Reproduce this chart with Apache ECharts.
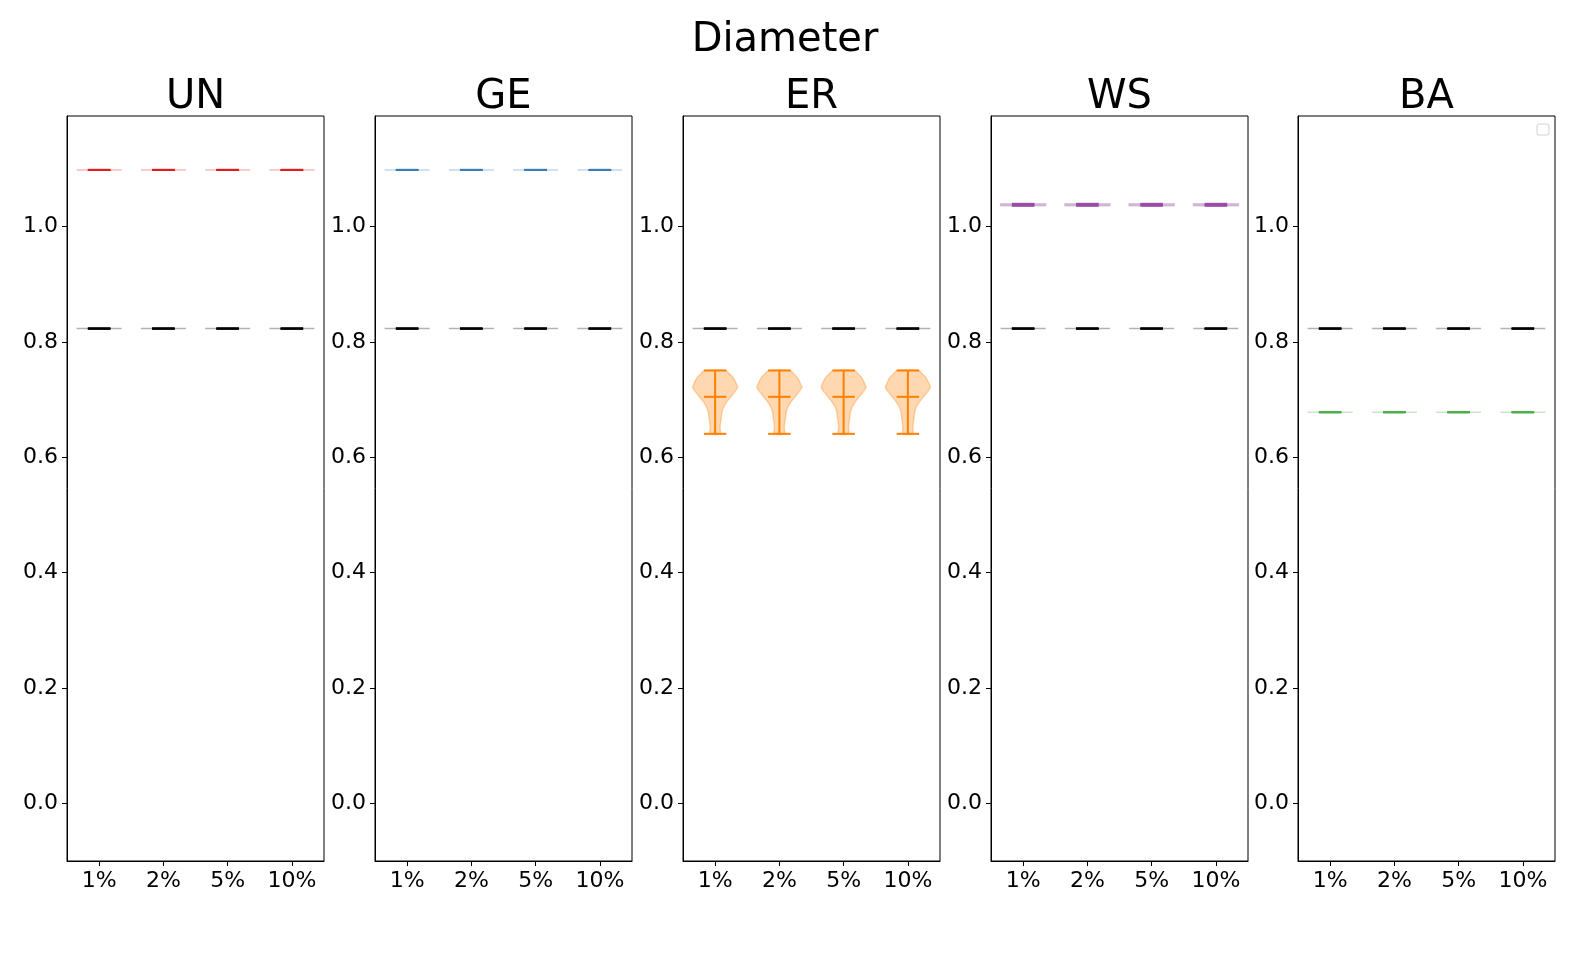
<!DOCTYPE html>
<html>
<head>
<meta charset="utf-8">
<title>Diameter</title>
<script src="https://cdn.jsdelivr.net/npm/echarts@6/dist/echarts.min.js"></script>
<style>
  html, body { margin: 0; padding: 0; background: #fff; }
  #chart { width: 1585px; height: 967px; }
</style>
</head>
<body>
<div id="chart"></div>
<script>
// categories and panels
const categories = ['1%', '2%', '5%', '10%'];
const panels = ['UN', 'GE', 'ER', 'WS', 'BA'];
const yTicks = [0.0, 0.2, 0.4, 0.6, 0.8, 1.0];

// black reference violin, same in every panel
const refValue = [0.823, 0.823, 0.823, 0.823];

// model values (min / mean / max per category)
const unValue = [1.098, 1.098, 1.098, 1.098];
const geValue = [1.098, 1.098, 1.098, 1.098];
const erMin = [0.6405, 0.6405, 0.6405, 0.6405];
const erMean = [0.7047, 0.7047, 0.7047, 0.7047];
const erMax = [0.7503, 0.7503, 0.7503, 0.7503];
const wsMin = [1.0358, 1.0358, 1.0358, 1.0358];
const wsMean = [1.0375, 1.0375, 1.0375, 1.0375];
const wsMax = [1.0393, 1.0393, 1.0393, 1.0393];
const baValue = [0.678, 0.678, 0.678, 0.678];

// ER violin outline: value and relative half width
const erShapeValues = [0.6405, 0.6531, 0.6677, 0.6821, 0.6937, 0.7052, 0.7168, 0.7215, 0.7255, 0.7371, 0.7445, 0.7503];
const erShapeWidths = [0.22, 0.22, 0.27, 0.33, 0.48, 0.71, 0.94, 1.0, 0.96, 0.82, 0.64, 0.48];

const colors = {
  UN: '#e41a1c',
  GE: '#377eb8',
  ER: '#ff7f00',
  WS: '#984ea3',
  BA: '#4daf4a',
  ref: '#000000'
};

const fontFamily = 'DejaVu Sans';

function alpha(hex, a) {
  const n = parseInt(hex.slice(1), 16);
  return `rgba(${(n >> 16) & 255},${(n >> 8) & 255},${n & 255},${a})`;
}

// one violin series: body + min/max/mean bars
function violinSeries(gridIndex, mins, means, maxs, color, shape) {
  return {
    type: 'custom',
    xAxisIndex: gridIndex,
    yAxisIndex: gridIndex,
    silent: true,
    data: categories.map((c, i) => [i, mins[i], means[i], maxs[i]]),
    encode: { x: 0, y: [1, 2, 3] },
    renderItem: function (params, api) {
      const i = api.value(0);
      const lo = api.coord([i, api.value(1)]);
      const mid = api.coord([i, api.value(2)]);
      const hi = api.coord([i, api.value(3)]);
      const band = api.size([1, 0])[0];
      const hw = band * 0.35;
      const cx = lo[0];
      const children = [];
      if (shape) {
        const right = shape.values.map((v, k) => [cx + shape.widths[k] * hw, api.coord([i, v])[1]]);
        const left = shape.values.map((v, k) => [cx - shape.widths[k] * hw, api.coord([i, v])[1]]).reverse();
        children.push({
          type: 'polygon',
          shape: { points: right.concat(left), smooth: 0.3 },
          style: { fill: alpha(color, 0.3), stroke: alpha(color, 0.3), lineWidth: 1.5 }
        });
      } else {
        children.push({
          type: 'rect',
          shape: { x: cx - hw, y: hi[1], width: hw * 2, height: Math.max(lo[1] - hi[1], 0) },
          style: { fill: alpha(color, 0.3), stroke: alpha(color, 0.3), lineWidth: 1.5 }
        });
      }
      const bar = (y) => ({
        type: 'line',
        shape: { x1: cx - hw / 2, y1: y, x2: cx + hw / 2, y2: y },
        style: { stroke: color, lineWidth: 2 }
      });
      children.push(bar(lo[1]), bar(hi[1]), bar(mid[1]));
      children.push({
        type: 'line',
        shape: { x1: cx, y1: hi[1], x2: cx, y2: lo[1] },
        style: { stroke: color, lineWidth: 2 }
      });
      return { type: 'group', children: children };
    }
  };
}

const panelLeft = [67, 375, 683, 991, 1298];
const panelWidth = 257;
const panelTop = 116;
const panelHeight = 745;

const grids = panels.map((p, k) => ({
  left: panelLeft[k],
  top: panelTop,
  width: panelWidth,
  height: panelHeight,
  show: true,
  borderColor: '#000',
  borderWidth: 1,
  backgroundColor: '#fff'
}));

const xAxes = panels.map((p, k) => ({
  type: 'category',
  gridIndex: k,
  data: categories,
  boundaryGap: true,
  axisLine: { show: true, onZero: false, lineStyle: { color: '#000', width: 1 } },
  axisTick: { show: true, alignWithLabel: true, length: 5, lineStyle: { color: '#000' } },
  axisLabel: { color: '#000', fontSize: 22, fontFamily: fontFamily, margin: 9 },
  splitLine: { show: false }
}));

const yAxes = panels.map((p, k) => ({
  type: 'value',
  gridIndex: k,
  min: -0.1,
  max: 1.1915,
  axisLine: { show: true, lineStyle: { color: '#000', width: 1 } },
  axisTick: { show: true, length: 5, lineStyle: { color: '#000' }, customValues: yTicks },
  axisLabel: {
    color: '#000', fontSize: 22, fontFamily: fontFamily, margin: 9,
    customValues: yTicks,
    formatter: (v) => v.toFixed(1)
  },
  splitLine: { show: false }
}));

const series = [];
panels.forEach((p, k) => {
  series.push(violinSeries(k, refValue, refValue, refValue, colors.ref));
});
series.push(violinSeries(0, unValue, unValue, unValue, colors.UN));
series.push(violinSeries(1, geValue, geValue, geValue, colors.GE));
series.push(violinSeries(2, erMin, erMean, erMax, colors.ER, { values: erShapeValues, widths: erShapeWidths }));
series.push(violinSeries(3, wsMin, wsMean, wsMax, colors.WS));
series.push(violinSeries(4, baValue, baValue, baValue, colors.BA));

const titles = [{
  type: 'text', x: 785, y: 41,
  style: { text: 'Diameter', fontSize: 40, fontFamily: fontFamily, fill: '#000', align: 'center', verticalAlign: 'middle' }
}].concat(panels.map((p, k) => ({
  type: 'text', x: panelLeft[k] + panelWidth / 2, y: 98,
  style: { text: p, fontSize: 40, fontFamily: fontFamily, fill: '#000', align: 'center', verticalAlign: 'middle' }
})));

// empty legend frame in the last panel
titles.push({
  type: 'rect',
  shape: { x: 1537, y: 124, width: 12, height: 11, r: 2 },
  style: { fill: '#fff', stroke: '#d0d0d0', lineWidth: 1 },
  z: 10
});

const myChart = echarts.init(document.getElementById('chart'), null, { renderer: 'canvas' });
const option = {
  animation: false,
  backgroundColor: '#fff',
  grid: grids,
  xAxis: xAxes,
  yAxis: yAxes,
  series: series,
  graphic: titles
};
myChart.setOption(option, true);
</script>
</body>
</html>
